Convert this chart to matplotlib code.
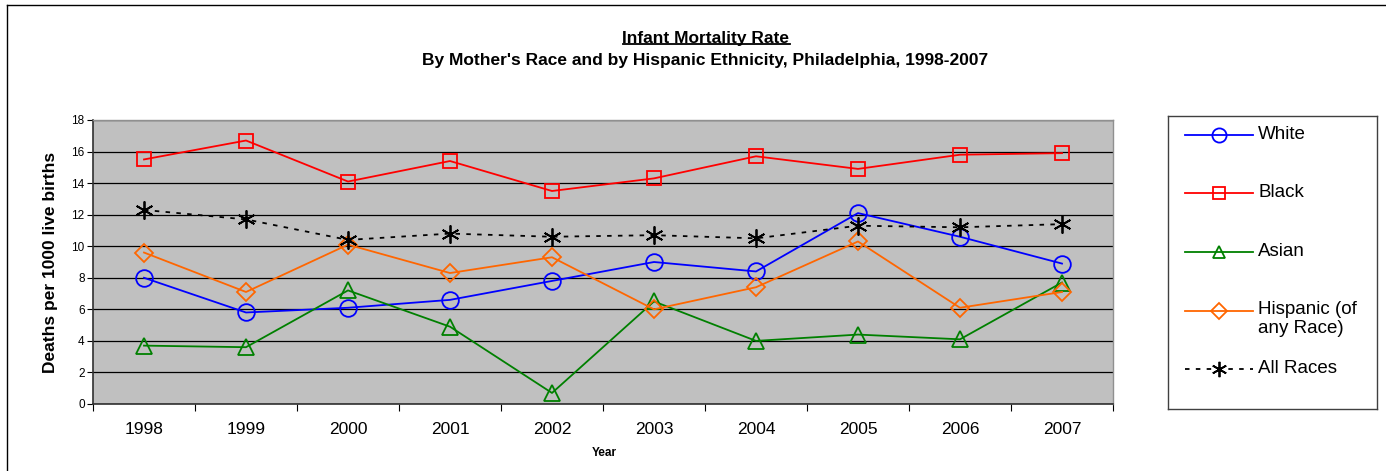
import numpy as np
import matplotlib
matplotlib.use('Agg')
import matplotlib.pyplot as plt
from matplotlib.lines import Line2D

plt.rcParams['font.family'] = ['Liberation Sans', 'DejaVu Sans']

YEARS = ['1998', '1999', '2000', '2001', '2002', '2003', '2004', '2005', '2006', '2007']
WHITE = [8.0, 5.8, 6.1, 6.6, 7.8, 9.0, 8.4, 12.1, 10.6, 8.9]
BLACK = [15.5, 16.7, 14.1, 15.4, 13.5, 14.3, 15.7, 14.9, 15.8, 15.9]
ASIAN = [3.7, 3.6, 7.2, 4.9, 0.7, 6.5, 4.0, 4.4, 4.1, 7.7]
HISPANIC = [9.6, 7.1, 10.1, 8.3, 9.3, 6.0, 7.4, 10.3, 6.1, 7.1]
ALL_RACES = [12.3, 11.7, 10.4, 10.8, 10.6, 10.7, 10.5, 11.3, 11.2, 11.4]
SERIES_NAMES = ['White', 'Black', 'Asian', 'Hispanic (of\nany Race)', 'All Races']

W, H = 1386, 471


def fx(px):
    return px / W


def fy(py):
    # pixel row (from top) to figure fraction
    return 1 - py / H


def main():
    fig = plt.figure(figsize=(W / 100, H / 100), dpi=100)
    fig.patch.set_facecolor('white')

    # outer chart border (only top and left visible in the crop)
    fig.add_artist(Line2D([fx(7), fx(7)], [0, fy(5)], color='black', lw=1.0))
    fig.add_artist(Line2D([fx(7), 1], [fy(5), fy(5)], color='black', lw=1.0))

    ax = fig.add_axes([fx(93), fy(404), fx(1113) - fx(93), fy(120) - fy(404)])
    ax.set_facecolor('#C0C0C0')

    x = np.arange(len(YEARS))
    styles = [
        (WHITE, '#0000FF', 'o', 12, '-'),
        (BLACK, '#FF0000', 's', 10, '-'),
        (ASIAN, '#008000', '^', 11, '-'),
        (HISPANIC, '#FF6600', 'D', 9, '-'),
        (ALL_RACES, '#000000', (6, 2, 0), 13, (0, (2.5, 3.5))),
    ]
    for vals, col, mk, ms, ls in styles:
        ax.plot(x, vals, color=col, lw=1.3, linestyle=ls, marker=mk, markersize=ms,
                markerfacecolor='none', markeredgecolor=col, markeredgewidth=1.3, zorder=3)

    ax.set_xlim(-0.5, len(YEARS) - 0.5)
    ax.set_ylim(0, 18)
    ax.set_yticks(np.arange(0, 19, 2))
    ax.tick_params(axis='y', labelsize=8.5, length=4, width=0.8, pad=2, colors='black')
    ax.set_xticks(np.arange(-0.5, len(YEARS), 1.0))
    ax.set_xticklabels([])
    ax.set_xticks(x, minor=True)
    ax.set_xticklabels(YEARS, minor=True, fontsize=12.5)
    ax.tick_params(axis='x', which='major', length=5, width=0.8)
    ax.tick_params(axis='x', which='minor', length=0, pad=13)
    ax.yaxis.grid(True, color='black', lw=0.9)
    ax.set_axisbelow(True)
    for side in ['left', 'bottom']:
        ax.spines[side].set_color('#303030')
        ax.spines[side].set_linewidth(1.2)
    for side in ['top', 'right']:
        ax.spines[side].set_color('#909090')
        ax.spines[side].set_linewidth(1.0)

    fig.text(fx(51), fy(262), 'Deaths per 1000 live births', rotation=90,
             ha='center', va='center', fontsize=12.5, fontweight='bold')
    fig.text(fx(604), fy(453), 'Year', ha='center', va='center', fontsize=8.5, fontweight='bold')

    title = fig.text(fx(706), fy(38), 'Infant Mortality Rate', ha='center', va='center',
                     fontsize=12.5, fontweight='bold')
    fig.text(fx(705), fy(60), "By Mother's Race and by Hispanic Ethnicity, Philadelphia, 1998-2007",
             ha='center', va='center', fontsize=12.5, fontweight='bold')

    # underline for the title
    fig.canvas.draw()
    bb = title.get_window_extent().transformed(fig.transFigure.inverted())
    fig.add_artist(Line2D([bb.x0, bb.x1], [bb.y0 + 0.003, bb.y0 + 0.003], color='black', lw=1.3))

    # legend box drawn by hand so that the handle aligns with the first text line
    lax = fig.add_axes([fx(1168), fy(409), fx(1377) - fx(1168), fy(116) - fy(409)])
    lax.set_xlim(1168, 1377)
    lax.set_ylim(409, 116)
    lax.set_xticks([])
    lax.set_yticks([])
    for s in lax.spines.values():
        s.set_color('#404040')
        s.set_linewidth(1.0)
    rows = [135, 193, 252, 311, 369]
    for (vals, col, mk, ms, ls), name, ry in zip(styles, SERIES_NAMES, rows):
        lax.plot([1185, 1253], [ry, ry], color=col, lw=1.3, linestyle=ls)
        lax.plot([1219], [ry], color=col, marker=mk, markersize=ms * 0.85,
                 markerfacecolor='none', markeredgecolor=col, markeredgewidth=1.3)
        if '\n' in name:
            lax.text(1258, ry - 10, name, ha='left', va='top', fontsize=13.5, linespacing=1.15)
        else:
            lax.text(1258, ry, name, ha='left', va='center', fontsize=13.5)

    fig.savefig('out.png', dpi=100, facecolor='white')


if __name__ == '__main__':
    main()
